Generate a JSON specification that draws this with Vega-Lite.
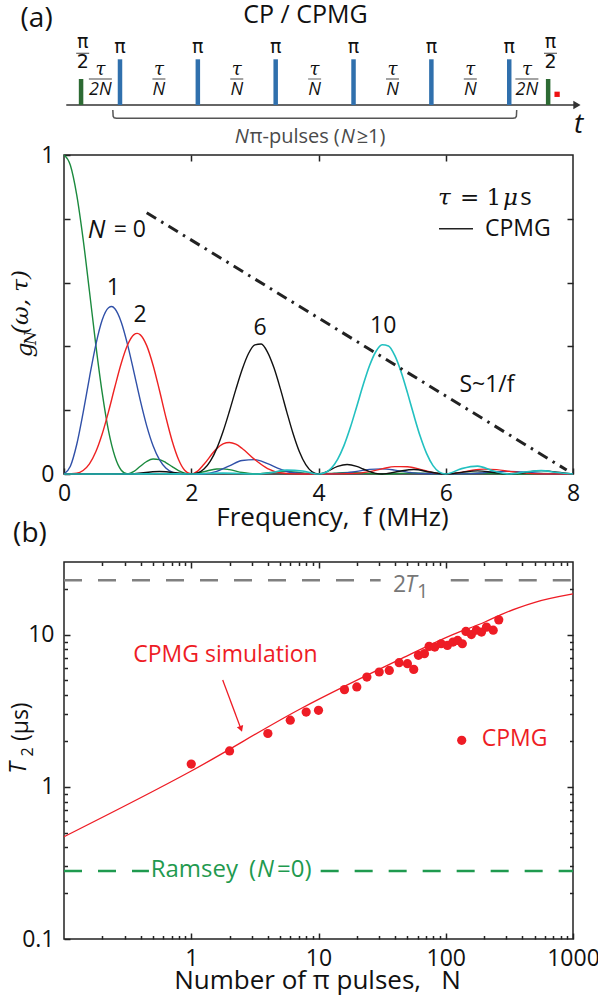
{
"$schema": "https://vega.github.io/schema/vega-lite/v6.json",
"background": "white",
"padding": {"left": 7, "top": 3, "right": 0, "bottom": 0},
"bounds": "flush",
"spacing": 88,
"config": {
  "view": {"stroke": "#222222", "strokeWidth": 1.5},
  "axis": {"domain": false, "grid": false, "labelFont": "Open Sans", "labelFontSize": 23, "labelColor": "#111111", "titleFont": "Open Sans", "titleFontSize": 26, "titleFontWeight": "normal", "titleColor": "#111111", "tickColor": "#222222", "tickWidth": 1.5, "labelFlush": false, "labelOverlap": false},
  "text": {"font": "Open Sans", "fontSize": 23, "color": "#111111"}
},
"datasets": {
  "pulseAxis": [{"t1": -0.19, "t2": 6.36, "v": 0}],
  "pulseArrow": [{"t": 6.37, "v": 0}],
  "pulses": [
    {"t": 0, "amp": 0.569, "kind": "π/2"},
    {"t": 0.5, "amp": 1, "kind": "π"}, {"t": 1.5, "amp": 1, "kind": "π"}, {"t": 2.5, "amp": 1, "kind": "π"},
    {"t": 3.5, "amp": 1, "kind": "π"}, {"t": 4.5, "amp": 1, "kind": "π"}, {"t": 5.5, "amp": 1, "kind": "π"},
    {"t": 6, "amp": 0.569, "kind": "π/2"}
  ],
  "readout": [{"t": 6.115, "v": 0.234}],
  "pulseSans": [
    {"t": 0.5, "v": 1.276, "s": "π"}, {"t": 1.5, "v": 1.276, "s": "π"}, {"t": 2.5, "v": 1.276, "s": "π"},
    {"t": 3.5, "v": 1.276, "s": "π"}, {"t": 4.5, "v": 1.276, "s": "π"}, {"t": 5.5, "v": 1.276, "s": "π"},
    {"t": 0.021, "v": 1.385, "s": "π"}, {"t": 6.03, "v": 1.385, "s": "π"},
    {"t": 0.021, "v": 0.947, "s": "2"}, {"t": 6.03, "v": 0.947, "s": "2"}
  ],
  "pulseTau": [
    {"t": 0.248, "v": 0.766, "s": "τ"}, {"t": 5.727, "v": 0.766, "s": "τ"},
    {"t": 1, "v": 0.766, "s": "τ"}, {"t": 2, "v": 0.766, "s": "τ"}, {"t": 3, "v": 0.766, "s": "τ"}, {"t": 4, "v": 0.766, "s": "τ"}, {"t": 5, "v": 0.766, "s": "τ"}
  ],
  "pulseDen": [
    {"t": 0.248, "v": 0.328, "s": "2N"}, {"t": 5.727, "v": 0.328, "s": "2N"},
    {"t": 1, "v": 0.328, "s": "N"}, {"t": 2, "v": 0.328, "s": "N"}, {"t": 3, "v": 0.328, "s": "N"}, {"t": 4, "v": 0.328, "s": "N"}, {"t": 5, "v": 0.328, "s": "N"}
  ],
  "barShort": [
    {"t": 0.021, "v": 1.131}, {"t": 6.03, "v": 1.131},
    {"t": 1, "v": 0.569}, {"t": 2, "v": 0.569}, {"t": 3, "v": 0.569}, {"t": 4, "v": 0.569}, {"t": 5, "v": 0.569}
  ],
  "barLong": [{"t": 0.248, "v": 0.569}, {"t": 5.727, "v": 0.569}],
  "bracket": [
    {"t": 0.408, "v": -0.109}, {"t": 0.412, "v": -0.245}, {"t": 0.425, "v": -0.28}, {"t": 0.455, "v": -0.291},
    {"t": 5.549, "v": -0.291}, {"t": 5.579, "v": -0.28}, {"t": 5.592, "v": -0.245}, {"t": 5.596, "v": -0.109}
  ],
  "bracketText": [{"t": 2.163, "v": -0.70, "s": "π-pulses"}, {"t": 3.245, "v": -0.70, "s": "("}, {"t": 3.54, "v": -0.70, "s": "≥1)"}],
  "bracketItal": [{"t": 1.974, "v": -0.70, "s": "N"}, {"t": 3.335, "v": -0.70, "s": "N"}],
  "tLabel": [{"t": 6.39, "v": -0.438, "s": "t"}],
  "heads": [{"t": 2.882, "v": 1.969, "s": "CP / CPMG"}],
  "panelA": [{"t": -0.571, "v": 1.888, "s": "(a)"}],
  "curves": [
    {"N":0,"f":0,"g":1},{"N":0,"f":0.1,"g":0.968},{"N":0,"f":0.2,"g":0.875},{"N":0,"f":0.3,"g":0.737},{"N":0,"f":0.4,"g":0.573},{"N":0,"f":0.5,"g":0.405},{"N":0,"f":0.6,"g":0.255},{"N":0,"f":0.7,"g":0.135},{"N":0,"f":0.8,"g":0.0547},{"N":0,"f":0.9,"g":0.0119},{"N":0,"f":1,"g":0},{"N":0,"f":1.1,"g":0.008},{"N":0,"f":1.2,"g":0.0243},{"N":0,"f":1.3,"g":0.0392},{"N":0,"f":1.4,"g":0.0468},{"N":0,"f":1.5,"g":0.045},{"N":0,"f":1.6,"g":0.0358},{"N":0,"f":1.7,"g":0.0229},{"N":0,"f":1.8,"g":0.0108},{"N":0,"f":1.9,"g":0.0027},{"N":0,"f":2,"g":0},{"N":0,"f":2.2,"g":0.0072},{"N":0,"f":2.4,"g":0.0159},{"N":0,"f":2.5,"g":0.0162},{"N":0,"f":2.6,"g":0.0136},{"N":0,"f":2.8,"g":0.0045},{"N":0,"f":3,"g":0},{"N":0,"f":3.25,"g":0.0048},{"N":0,"f":3.5,"g":0.0083},{"N":0,"f":3.75,"g":0.0036},{"N":0,"f":4,"g":0},{"N":0,"f":4.25,"g":0.0028},{"N":0,"f":4.5,"g":0.005},{"N":0,"f":4.75,"g":0.0022},{"N":0,"f":5,"g":0},{"N":0,"f":5.5,"g":0.0034},{"N":0,"f":6,"g":0},{"N":0,"f":6.5,"g":0.0024},{"N":0,"f":7,"g":0},{"N":0,"f":7.5,"g":0.0018},{"N":0,"f":8,"g":0},
    {"N":1,"f":0,"g":0},{"N":1,"f":0.1,"g":0.0243},{"N":1,"f":0.2,"g":0.0924},{"N":1,"f":0.3,"g":0.1915},{"N":1,"f":0.4,"g":0.3025},{"N":1,"f":0.5,"g":0.405},{"N":1,"f":0.6,"g":0.4825},{"N":1,"f":0.7,"g":0.521},{"N":1,"f":0.75,"g":0.525},{"N":1,"f":0.8,"g":0.518},{"N":1,"f":0.9,"g":0.476},{"N":1,"f":1,"g":0.405},{"N":1,"f":1.1,"g":0.3187},{"N":1,"f":1.2,"g":0.23},{"N":1,"f":1.3,"g":0.151},{"N":1,"f":1.4,"g":0.0886},{"N":1,"f":1.5,"g":0.045},{"N":1,"f":1.6,"g":0.0189},{"N":1,"f":1.7,"g":0.006},{"N":1,"f":1.8,"g":0.0011},{"N":1,"f":2,"g":0},{"N":1,"f":2.2,"g":0.0008},{"N":1,"f":2.4,"g":0.0084},{"N":1,"f":2.6,"g":0.0257},{"N":1,"f":2.8,"g":0.0423},{"N":1,"f":3,"g":0.045},{"N":1,"f":3.2,"g":0.0324},{"N":1,"f":3.4,"g":0.015},{"N":1,"f":3.6,"g":0.0037},{"N":1,"f":4,"g":0},{"N":1,"f":4.4,"g":0.0025},{"N":1,"f":4.6,"g":0.0082},{"N":1,"f":4.8,"g":0.0144},{"N":1,"f":5,"g":0.0162},{"N":1,"f":5.2,"g":0.0123},{"N":1,"f":5.4,"g":0.006},{"N":1,"f":5.6,"g":0.0015},{"N":1,"f":6,"g":0},{"N":1,"f":6.4,"g":0.0011},{"N":1,"f":6.6,"g":0.004},{"N":1,"f":6.8,"g":0.0072},{"N":1,"f":7,"g":0.0083},{"N":1,"f":7.2,"g":0.0064},{"N":1,"f":7.4,"g":0.0032},{"N":1,"f":7.6,"g":0.0008},{"N":1,"f":8,"g":0},
    {"N":2,"f":0,"g":0},{"N":2,"f":0.2,"g":0.0023},{"N":2,"f":0.3,"g":0.011},{"N":2,"f":0.4,"g":0.0319},{"N":2,"f":0.5,"g":0.0696},{"N":2,"f":0.6,"g":0.1253},{"N":2,"f":0.7,"g":0.1957},{"N":2,"f":0.8,"g":0.2735},{"N":2,"f":0.9,"g":0.3473},{"N":2,"f":1,"g":0.405},{"N":2,"f":1.1,"g":0.437},{"N":2,"f":1.15,"g":0.4408},{"N":2,"f":1.2,"g":0.4362},{"N":2,"f":1.3,"g":0.4024},{"N":2,"f":1.4,"g":0.341},{"N":2,"f":1.5,"g":0.2625},{"N":2,"f":1.6,"g":0.179},{"N":2,"f":1.7,"g":0.1034},{"N":2,"f":1.8,"g":0.0455},{"N":2,"f":1.9,"g":0.0109},{"N":2,"f":2,"g":0},{"N":2,"f":2.1,"g":0.0089},{"N":2,"f":2.2,"g":0.0304},{"N":2,"f":2.4,"g":0.0795},{"N":2,"f":2.5,"g":0.0945},{"N":2,"f":2.6,"g":0.0989},{"N":2,"f":2.7,"g":0.0933},{"N":2,"f":2.8,"g":0.0801},{"N":2,"f":3,"g":0.045},{"N":2,"f":3.2,"g":0.0171},{"N":2,"f":3.4,"g":0.0039},{"N":2,"f":3.6,"g":0.0004},{"N":2,"f":4,"g":0},{"N":2,"f":4.6,"g":0.0021},{"N":2,"f":4.8,"g":0.0076},{"N":2,"f":5,"g":0.0162},{"N":2,"f":5.2,"g":0.0232},{"N":2,"f":5.4,"g":0.0229},{"N":2,"f":5.6,"g":0.0146},{"N":2,"f":5.8,"g":0.0044},{"N":2,"f":6,"g":0},{"N":2,"f":6.2,"g":0.0038},{"N":2,"f":6.4,"g":0.0112},{"N":2,"f":6.6,"g":0.0153},{"N":2,"f":6.8,"g":0.0136},{"N":2,"f":7,"g":0.0083},{"N":2,"f":7.2,"g":0.0034},{"N":2,"f":7.5,"g":0.0003},{"N":2,"f":8,"g":0},
    {"N":6,"f":0,"g":0},{"N":6,"f":0.5,"g":0.0005},{"N":6,"f":1,"g":0},{"N":6,"f":1.5,"g":0.0077},{"N":6,"f":2,"g":0},{"N":6,"f":2.1,"g":0.0032},{"N":6,"f":2.2,"g":0.0154},{"N":6,"f":2.3,"g":0.0402},{"N":6,"f":2.4,"g":0.0796},{"N":6,"f":2.5,"g":0.133},{"N":6,"f":2.6,"g":0.1967},{"N":6,"f":2.7,"g":0.2645},{"N":6,"f":2.8,"g":0.3277},{"N":6,"f":2.9,"g":0.3778},{"N":6,"f":3,"g":0.405},{"N":6,"f":3.1,"g":0.4077},{"N":6,"f":3.2,"g":0.3815},{"N":6,"f":3.3,"g":0.3328},{"N":6,"f":3.4,"g":0.2677},{"N":6,"f":3.5,"g":0.1957},{"N":6,"f":3.6,"g":0.1269},{"N":6,"f":3.7,"g":0.0696},{"N":6,"f":3.8,"g":0.029},{"N":6,"f":3.9,"g":0.0065},{"N":6,"f":4,"g":0},{"N":6,"f":4.1,"g":0.0046},{"N":6,"f":4.3,"g":0.024},{"N":6,"f":4.45,"g":0.0299},{"N":6,"f":4.6,"g":0.0238},{"N":6,"f":4.7,"g":0.0157},{"N":6,"f":4.9,"g":0.0019},{"N":6,"f":5,"g":0},{"N":6,"f":5.25,"g":0.008},{"N":6,"f":5.5,"g":0.0139},{"N":6,"f":5.75,"g":0.0062},{"N":6,"f":6,"g":0},{"N":6,"f":6.25,"g":0.0052},{"N":6,"f":6.5,"g":0.0099},{"N":6,"f":6.75,"g":0.0048},{"N":6,"f":7,"g":0},{"N":6,"f":7.25,"g":0.0049},{"N":6,"f":7.5,"g":0.0105},{"N":6,"f":7.75,"g":0.0059},{"N":6,"f":8,"g":0},
    {"N":10,"f":0,"g":0},{"N":10,"f":1,"g":0},{"N":10,"f":1.5,"g":0.0007},{"N":10,"f":2,"g":0},{"N":10,"f":2.5,"g":0.0028},{"N":10,"f":3,"g":0},{"N":10,"f":3.25,"g":0.004},{"N":10,"f":3.5,"g":0.012},{"N":10,"f":3.75,"g":0.0094},{"N":10,"f":4,"g":0},{"N":10,"f":4.1,"g":0.0038},{"N":10,"f":4.2,"g":0.0181},{"N":10,"f":4.3,"g":0.0461},{"N":10,"f":4.4,"g":0.089},{"N":10,"f":4.5,"g":0.1455},{"N":10,"f":4.6,"g":0.211},{"N":10,"f":4.7,"g":0.278},{"N":10,"f":4.8,"g":0.3384},{"N":10,"f":4.9,"g":0.3833},{"N":10,"f":5,"g":0.405},{"N":10,"f":5.1,"g":0.4013},{"N":10,"f":5.2,"g":0.3709},{"N":10,"f":5.3,"g":0.3191},{"N":10,"f":5.4,"g":0.2535},{"N":10,"f":5.5,"g":0.1831},{"N":10,"f":5.6,"g":0.1173},{"N":10,"f":5.7,"g":0.0637},{"N":10,"f":5.8,"g":0.0262},{"N":10,"f":5.9,"g":0.0058},{"N":10,"f":6,"g":0},{"N":10,"f":6.25,"g":0.0169},{"N":10,"f":6.5,"g":0.0246},{"N":10,"f":6.75,"g":0.0094},{"N":10,"f":7,"g":0},{"N":10,"f":7.25,"g":0.0062},{"N":10,"f":7.5,"g":0.0105},{"N":10,"f":7.75,"g":0.0045},{"N":10,"f":8,"g":0}
  ],
  "sLine": [{"f": 1.30, "g": 0.819}, {"f": 7.90, "g": 0.0125}],
  "legendLine": [{"f": 5.894, "g": 0.769}, {"f": 6.428, "g": 0.769}],
  "aTextCenter": [
    {"f": 0.775, "g": 0.582, "s": "1"}, {"f": 1.194, "g": 0.498, "s": "2"}, {"f": 3.08, "g": 0.457, "s": "6"},
    {"f": 5.018, "g": 0.465, "s": "10"}, {"f": 6.648, "g": 0.279, "s": "S~1/f"}
  ],
  "aTextLeft": [{"f": 6.617, "g": 0.769, "s": "CPMG"}, {"f": 0.78, "g": 0.765, "s": "= 0"}],
  "aTextItal": [{"f": 0.375, "g": 0.765, "s": "N"}],
  "mathItal": [{"f": 5.878, "g": 0.843, "s": "τ"}, {"f": 6.9, "g": 0.843, "s": "μ"}],
  "mathReg": [{"f": 6.224, "g": 0.843, "s": "= 1"}],
  "mathSans": [{"f": 7.17, "g": 0.843, "s": "s"}],
  "yTitleA": [{"f": -0.613, "g": 0.389, "s": "g"}, {"f": -0.676, "g": 0.539, "s": "(ω, τ)"}],
  "yTitleASub": [{"f": -0.519, "g": 0.426, "s": "N"}],
  "ramsey": [{"n1": 0.1, "n2": 0.465, "T": 0.28}, {"n1": 10.4, "n2": 1000, "T": 0.28}],
  "t1line": [{"n1": 0.1, "n2": 30.8, "T": 22.8}, {"n1": 109.5, "n2": 1000, "T": 22.8}],
  "sim": [{"N": 0.1, "T": 0.47}, {"N": 1, "T": 1.27}, {"N": 7.3, "T": 3.27}, {"N": 44.8, "T": 6.95}, {"N": 110, "T": 9.9}, {"N": 203, "T": 12.1}, {"N": 275, "T": 13.6}, {"N": 371, "T": 15.0}, {"N": 502, "T": 16.3}, {"N": 1000, "T": 18.5}],
  "cpmg": [
    {"N":1,"T":1.41},{"N":2,"T":1.72},{"N":4,"T":2.24},{"N":6,"T":2.74},{"N":8,"T":3.10},{"N":10,"T":3.18},{"N":16,"T":4.35},{"N":20,"T":4.53},{"N":24,"T":5.26},{"N":30,"T":5.68},{"N":36,"T":5.82},{"N":43,"T":6.54},{"N":50,"T":6.44},{"N":56,"T":5.91},{"N":61,"T":7.31},{"N":68,"T":7.5},{"N":74,"T":8.37},{"N":82,"T":8.28},{"N":92,"T":8.71},{"N":103,"T":8.49},{"N":114,"T":8.93},{"N":124,"T":9.16},{"N":135,"T":8.71},{"N":144,"T":10.5},{"N":159,"T":10.0},{"N":174,"T":10.7},{"N":191,"T":10.4},{"N":209,"T":11.2},{"N":236,"T":10.7},{"N":261,"T":12.5}
  ],
  "legendPoint": [{"N": 133.5, "T": 2.02}],
  "arrowLine": [{"n1": 1.767, "T1": 5.03, "n2": 2.46, "T2": 2.40}],
  "arrowHead": [{"N": 2.46, "T": 2.40}],
  "redLeftBase": [{"N": 0.35, "T": 6.64, "s": "CPMG simulation"}],
  "redLeftMid": [{"N": 192, "T": 2.048, "s": "CPMG"}],
  "grayReg": [{"N": 38.5, "T": 19.05, "s": "2"}],
  "grayItal": [{"N": 47.9, "T": 19.05, "s": "T"}],
  "graySub": [{"N": 59.4, "T": 17.4, "s": "1"}],
  "greenReg": [{"N": 0.48, "T": 0.284, "s": "Ramsey"}, {"N": 2.843, "T": 0.284, "s": "("}, {"N": 4.72, "T": 0.284, "s": "=0)"}],
  "greenItal": [{"N": 3.29, "T": 0.284, "s": "N"}],
  "panelB": [{"N": 0.054, "T": 45.8, "s": "(b)"}],
  "yTitleB": [{"N": 0.0459, "T": 2.677, "s": "(μs)"}],
  "yTitleBItal": [{"N": 0.0443, "T": 1.329, "s": "T"}],
  "yTitleBSub": [{"N": 0.0521, "T": 1.693, "s": "2"}]
},
"vconcat": [
  {
    "width": 509, "height": 62,
    "view": {"stroke": null},
    "encoding": {
      "x": {"type": "quantitative", "scale": {"domain": [-0.155, 6.255], "nice": false, "zero": false}, "axis": null},
      "y": {"type": "quantitative", "scale": {"domain": [0.8315, 2.188], "nice": false, "zero": false}, "axis": null}
    },
    "layer": [
      {"data": {"name": "pulseAxis"}, "mark": {"type": "rule", "color": "#333333", "strokeWidth": 1.5},
       "encoding": {"x": {"field": "t1"}, "x2": {"field": "t2"}, "y": {"field": "v"}}},
      {"data": {"name": "pulseArrow"}, "mark": {"type": "point", "shape": "triangle-right", "filled": true, "size": 70, "color": "#333333", "opacity": 1},
       "encoding": {"x": {"field": "t"}, "y": {"field": "v"}}},
      {"data": {"name": "pulses"}, "mark": {"type": "bar", "size": 4.5},
       "encoding": {"x": {"field": "t"}, "y": {"field": "amp"}, "y2": {"datum": 0},
         "color": {"field": "kind", "type": "nominal", "scale": {"domain": ["π/2", "π"], "range": ["#2d6a33", "#3070ad"]}, "legend": null}}},
      {"data": {"name": "readout"}, "mark": {"type": "square", "size": 28, "color": "#ee1111", "opacity": 1},
       "encoding": {"x": {"field": "t"}, "y": {"field": "v"}}},
      {"data": {"name": "pulseSans"}, "mark": {"type": "text", "font": "DejaVu Sans", "fontSize": 19, "align": "center", "baseline": "middle"},
       "encoding": {"x": {"field": "t"}, "y": {"field": "v"}, "text": {"field": "s"}}},
      {"data": {"name": "pulseTau"}, "mark": {"type": "text", "font": "DejaVu Serif", "fontStyle": "italic", "fontSize": 18, "align": "center", "baseline": "middle"},
       "encoding": {"x": {"field": "t"}, "y": {"field": "v"}, "text": {"field": "s"}}},
      {"data": {"name": "pulseDen"}, "mark": {"type": "text", "fontStyle": "italic", "fontSize": 18, "align": "center", "baseline": "middle"},
       "encoding": {"x": {"field": "t"}, "y": {"field": "v"}, "text": {"field": "s"}}},
      {"data": {"name": "barShort"}, "mark": {"type": "tick", "orient": "horizontal", "size": 13, "thickness": 1.2, "color": "#222222"},
       "encoding": {"x": {"field": "t"}, "y": {"field": "v"}}},
      {"data": {"name": "barLong"}, "mark": {"type": "tick", "orient": "horizontal", "size": 23, "thickness": 1.2, "color": "#222222"},
       "encoding": {"x": {"field": "t"}, "y": {"field": "v"}}},
      {"data": {"name": "bracket"}, "mark": {"type": "line", "color": "#555555", "strokeWidth": 1.5},
       "encoding": {"x": {"field": "t"}, "y": {"field": "v"}}},
      {"data": {"name": "bracketText"}, "mark": {"type": "text", "fontSize": 20, "color": "#4a4a4a", "align": "left", "baseline": "middle"},
       "encoding": {"x": {"field": "t"}, "y": {"field": "v"}, "text": {"field": "s"}}},
      {"data": {"name": "bracketItal"}, "mark": {"type": "text", "fontSize": 20, "fontStyle": "italic", "color": "#4a4a4a", "align": "left", "baseline": "middle"},
       "encoding": {"x": {"field": "t"}, "y": {"field": "v"}, "text": {"field": "s"}}},
      {"data": {"name": "tLabel"}, "mark": {"type": "text", "fontSize": 28, "fontStyle": "italic", "align": "center", "baseline": "middle"},
       "encoding": {"x": {"field": "t"}, "y": {"field": "v"}, "text": {"field": "s"}}},
      {"data": {"name": "heads"}, "mark": {"type": "text", "fontSize": 25, "align": "center", "baseline": "middle"},
       "encoding": {"x": {"field": "t"}, "y": {"field": "v"}, "text": {"field": "s"}}},
      {"data": {"name": "panelA"}, "mark": {"type": "text", "fontSize": 28, "align": "center", "baseline": "middle"},
       "encoding": {"x": {"field": "t"}, "y": {"field": "v"}, "text": {"field": "s"}}}
    ]
  },
  {
    "width": 509, "height": 319,
    "resolve": {"axis": {"x": "independent", "y": "independent"}},
    "layer": [
      {"data": {"name": "curves"}, "transform": [{"filter": "datum.N == 0"}],
       "mark": {"type": "line", "color": "#1b8a3e", "strokeWidth": 1.4, "interpolate": "monotone"},
       "encoding": {
         "x": {"field": "f", "type": "quantitative", "scale": {"domain": [0, 8], "nice": false, "zero": false},
           "axis": {"orient": "bottom", "values": [0, 2, 4, 6, 8], "tickSize": -6, "labelPadding": 32, "labelBaseline": "alphabetic", "title": "Frequency,\u00a0\u00a0f (MHz)", "titleX": 268, "titleY": 51, "titleBaseline": "alphabetic"}},
         "y": {"field": "g", "type": "quantitative", "scale": {"domain": [0, 1], "nice": false, "zero": false},
           "axis": {"orient": "left", "values": [0, 0.2, 0.4, 0.6, 0.8, 1], "tickSize": -6, "labelPadding": 16, "labelExpr": "datum.value == 0 ? '0' : (datum.value == 1 ? '1' : '')", "title": null}}}},
      {"data": {"name": "curves"}, "transform": [{"filter": "datum.N == 1"}],
       "mark": {"type": "line", "color": "#3050a8", "strokeWidth": 1.4, "interpolate": "monotone"},
       "encoding": {
         "x": {"field": "f", "type": "quantitative", "scale": {"domain": [0, 8], "nice": false, "zero": false},
           "axis": {"orient": "top", "values": [2, 4, 6], "tickSize": -6, "labels": false, "title": null}},
         "y": {"field": "g", "type": "quantitative", "scale": {"domain": [0, 1], "nice": false, "zero": false},
           "axis": {"orient": "right", "values": [0.2, 0.4, 0.6, 0.8], "tickSize": -6, "labels": false, "title": null}}}},
      {"data": {"name": "curves"}, "transform": [{"filter": "datum.N == 2"}],
       "mark": {"type": "line", "color": "#ee2222", "strokeWidth": 1.4, "interpolate": "monotone"},
       "encoding": {
         "x": {"field": "f", "type": "quantitative", "scale": {"domain": [0, 8], "nice": false, "zero": false}, "axis": null},
         "y": {"field": "g", "type": "quantitative", "scale": {"domain": [0, 1], "nice": false, "zero": false}, "axis": null}}},
      {"data": {"name": "curves"}, "transform": [{"filter": "datum.N == 6"}],
       "mark": {"type": "line", "color": "#111111", "strokeWidth": 1.4, "interpolate": "monotone"},
       "encoding": {
         "x": {"field": "f", "type": "quantitative", "scale": {"domain": [0, 8], "nice": false, "zero": false}, "axis": null},
         "y": {"field": "g", "type": "quantitative", "scale": {"domain": [0, 1], "nice": false, "zero": false}, "axis": null}}},
      {"data": {"name": "curves"}, "transform": [{"filter": "datum.N == 10"}],
       "mark": {"type": "line", "color": "#22c0c0", "strokeWidth": 1.6, "interpolate": "monotone"},
       "encoding": {
         "x": {"field": "f", "type": "quantitative", "scale": {"domain": [0, 8], "nice": false, "zero": false}, "axis": null},
         "y": {"field": "g", "type": "quantitative", "scale": {"domain": [0, 1], "nice": false, "zero": false}, "axis": null}}},
      {"data": {"name": "sLine"}, "mark": {"type": "line", "color": "#222222", "strokeWidth": 3, "strokeDash": [11, 6, 2.5, 6]},
       "encoding": {
         "x": {"field": "f", "type": "quantitative", "scale": {"domain": [0, 8], "nice": false, "zero": false}, "axis": null},
         "y": {"field": "g", "type": "quantitative", "scale": {"domain": [0, 1], "nice": false, "zero": false}, "axis": null}}},
      {"data": {"name": "legendLine"}, "mark": {"type": "line", "color": "#222222", "strokeWidth": 1.5},
       "encoding": {
         "x": {"field": "f", "type": "quantitative", "scale": {"domain": [0, 8], "nice": false, "zero": false}, "axis": null},
         "y": {"field": "g", "type": "quantitative", "scale": {"domain": [0, 1], "nice": false, "zero": false}, "axis": null}}},
      {"data": {"name": "aTextCenter"}, "mark": {"type": "text", "fontSize": 23, "align": "center", "baseline": "middle"},
       "encoding": {
         "x": {"field": "f", "type": "quantitative", "scale": {"domain": [0, 8], "nice": false, "zero": false}, "axis": null},
         "y": {"field": "g", "type": "quantitative", "scale": {"domain": [0, 1], "nice": false, "zero": false}, "axis": null},
         "text": {"field": "s"}}},
      {"data": {"name": "aTextLeft"}, "mark": {"type": "text", "fontSize": 23, "align": "left", "baseline": "middle"},
       "encoding": {
         "x": {"field": "f", "type": "quantitative", "scale": {"domain": [0, 8], "nice": false, "zero": false}, "axis": null},
         "y": {"field": "g", "type": "quantitative", "scale": {"domain": [0, 1], "nice": false, "zero": false}, "axis": null},
         "text": {"field": "s"}}},
      {"data": {"name": "aTextItal"}, "mark": {"type": "text", "fontSize": 25, "fontStyle": "italic", "align": "left", "baseline": "middle"},
       "encoding": {
         "x": {"field": "f", "type": "quantitative", "scale": {"domain": [0, 8], "nice": false, "zero": false}, "axis": null},
         "y": {"field": "g", "type": "quantitative", "scale": {"domain": [0, 1], "nice": false, "zero": false}, "axis": null},
         "text": {"field": "s"}}},
      {"data": {"name": "mathItal"}, "mark": {"type": "text", "font": "DejaVu Serif", "fontSize": 23, "fontStyle": "italic", "align": "left", "baseline": "alphabetic"},
       "encoding": {
         "x": {"field": "f", "type": "quantitative", "scale": {"domain": [0, 8], "nice": false, "zero": false}, "axis": null},
         "y": {"field": "g", "type": "quantitative", "scale": {"domain": [0, 1], "nice": false, "zero": false}, "axis": null},
         "text": {"field": "s"}}},
      {"data": {"name": "mathReg"}, "mark": {"type": "text", "font": "DejaVu Serif", "fontSize": 23, "align": "left", "baseline": "alphabetic"},
       "encoding": {
         "x": {"field": "f", "type": "quantitative", "scale": {"domain": [0, 8], "nice": false, "zero": false}, "axis": null},
         "y": {"field": "g", "type": "quantitative", "scale": {"domain": [0, 1], "nice": false, "zero": false}, "axis": null},
         "text": {"field": "s"}}},
      {"data": {"name": "mathSans"}, "mark": {"type": "text", "fontSize": 24, "align": "left", "baseline": "alphabetic"},
       "encoding": {
         "x": {"field": "f", "type": "quantitative", "scale": {"domain": [0, 8], "nice": false, "zero": false}, "axis": null},
         "y": {"field": "g", "type": "quantitative", "scale": {"domain": [0, 1], "nice": false, "zero": false}, "axis": null},
         "text": {"field": "s"}}},
      {"data": {"name": "yTitleA"}, "mark": {"type": "text", "font": "DejaVu Serif", "fontSize": 23, "fontStyle": "italic", "align": "center", "baseline": "middle", "angle": 270},
       "encoding": {
         "x": {"field": "f", "type": "quantitative", "scale": {"domain": [0, 8], "nice": false, "zero": false}, "axis": null},
         "y": {"field": "g", "type": "quantitative", "scale": {"domain": [0, 1], "nice": false, "zero": false}, "axis": null},
         "text": {"field": "s"}}},
      {"data": {"name": "yTitleASub"}, "mark": {"type": "text", "font": "DejaVu Serif", "fontSize": 16, "fontStyle": "italic", "align": "center", "baseline": "middle", "angle": 270},
       "encoding": {
         "x": {"field": "f", "type": "quantitative", "scale": {"domain": [0, 8], "nice": false, "zero": false}, "axis": null},
         "y": {"field": "g", "type": "quantitative", "scale": {"domain": [0, 1], "nice": false, "zero": false}, "axis": null},
         "text": {"field": "s"}}}
    ]
  },
  {
    "width": 509, "height": 377,
    "resolve": {"axis": {"x": "independent", "y": "independent"}},
    "layer": [
      {"data": {"name": "ramsey"}, "mark": {"type": "rule", "color": "#1f9a4f", "strokeWidth": 2.5, "strokeDash": [18, 16]},
       "encoding": {
         "x": {"field": "n1", "type": "quantitative", "scale": {"type": "log", "domain": [0.1, 1000], "nice": false},
           "axis": {"orient": "bottom", "values": [1, 10, 100, 1000], "format": "~g", "tickSize": -6, "labelPadding": 32, "labelBaseline": "alphabetic", "title": "Number of π pulses,\u00a0\u00a0\u00a0N", "titleX": 253, "titleY": 49.3, "titleBaseline": "alphabetic"}},
         "x2": {"field": "n2"},
         "y": {"field": "T", "type": "quantitative", "scale": {"type": "log", "domain": [0.1, 30], "nice": false},
           "axis": {"orient": "left", "values": [0.1, 1, 10], "format": "~g", "tickSize": -6, "labelPadding": 16, "title": null}}}},
      {"data": {"name": "t1line"}, "mark": {"type": "rule", "color": "#808080", "strokeWidth": 2.5, "strokeDash": [18, 16]},
       "encoding": {
         "x": {"field": "n1", "type": "quantitative", "scale": {"type": "log", "domain": [0.1, 1000], "nice": false},
           "axis": {"orient": "bottom", "values": [0.2, 0.3, 0.4, 0.5, 0.6, 0.7, 0.8, 0.9, 2, 3, 4, 5, 6, 7, 8, 9, 20, 30, 40, 50, 60, 70, 80, 90, 200, 300, 400, 500, 600, 700, 800, 900], "tickSize": -3.5, "labels": false, "title": null}},
         "x2": {"field": "n2"},
         "y": {"field": "T", "type": "quantitative", "scale": {"type": "log", "domain": [0.1, 30], "nice": false},
           "axis": {"orient": "left", "values": [0.2, 0.3, 0.4, 0.5, 0.6, 0.7, 0.8, 0.9, 2, 3, 4, 5, 6, 7, 8, 9, 20], "tickSize": -3.5, "labels": false, "title": null}}}},
      {"data": {"name": "sim"}, "mark": {"type": "line", "color": "#ee1c25", "strokeWidth": 1.3, "interpolate": "monotone"},
       "encoding": {
         "x": {"field": "N", "type": "quantitative", "scale": {"type": "log", "domain": [0.1, 1000], "nice": false},
           "axis": {"orient": "top", "values": [1, 10, 100], "tickSize": -6, "labels": false, "title": null}},
         "y": {"field": "T", "type": "quantitative", "scale": {"type": "log", "domain": [0.1, 30], "nice": false},
           "axis": {"orient": "right", "values": [1, 10], "tickSize": -6, "labels": false, "title": null}}}},
      {"data": {"name": "cpmg"}, "mark": {"type": "circle", "size": 85, "color": "#ee1c25", "opacity": 1},
       "encoding": {
         "x": {"field": "N", "type": "quantitative", "scale": {"type": "log", "domain": [0.1, 1000], "nice": false},
           "axis": {"orient": "top", "values": [0.2, 0.3, 0.4, 0.5, 0.6, 0.7, 0.8, 0.9, 2, 3, 4, 5, 6, 7, 8, 9, 20, 30, 40, 50, 60, 70, 80, 90, 200, 300, 400, 500, 600, 700, 800, 900], "tickSize": -3.5, "labels": false, "title": null}},
         "y": {"field": "T", "type": "quantitative", "scale": {"type": "log", "domain": [0.1, 30], "nice": false},
           "axis": {"orient": "right", "values": [0.2, 0.3, 0.4, 0.5, 0.6, 0.7, 0.8, 0.9, 2, 3, 4, 5, 6, 7, 8, 9, 20], "tickSize": -3.5, "labels": false, "title": null}}}},
      {"data": {"name": "legendPoint"}, "mark": {"type": "circle", "size": 85, "color": "#ee1c25", "opacity": 1},
       "encoding": {
         "x": {"field": "N", "type": "quantitative", "scale": {"type": "log", "domain": [0.1, 1000], "nice": false}, "axis": null},
         "y": {"field": "T", "type": "quantitative", "scale": {"type": "log", "domain": [0.1, 30], "nice": false}, "axis": null}}},
      {"data": {"name": "arrowLine"}, "mark": {"type": "rule", "color": "#ee1c25", "strokeWidth": 1.3},
       "encoding": {
         "x": {"field": "n1", "type": "quantitative", "scale": {"type": "log", "domain": [0.1, 1000], "nice": false}, "axis": null},
         "x2": {"field": "n2"},
         "y": {"field": "T1", "type": "quantitative", "scale": {"type": "log", "domain": [0.1, 30], "nice": false}, "axis": null},
         "y2": {"field": "T2"}}},
      {"data": {"name": "arrowHead"}, "mark": {"type": "point", "shape": "triangle-down", "filled": true, "size": 45, "angle": 340, "color": "#ee1c25", "opacity": 1},
       "encoding": {
         "x": {"field": "N", "type": "quantitative", "scale": {"type": "log", "domain": [0.1, 1000], "nice": false}, "axis": null},
         "y": {"field": "T", "type": "quantitative", "scale": {"type": "log", "domain": [0.1, 30], "nice": false}, "axis": null}}},
      {"data": {"name": "redLeftBase"}, "mark": {"type": "text", "fontSize": 23, "color": "#ee1c25", "align": "left", "baseline": "alphabetic"},
       "encoding": {
         "x": {"field": "N", "type": "quantitative", "scale": {"type": "log", "domain": [0.1, 1000], "nice": false}, "axis": null},
         "y": {"field": "T", "type": "quantitative", "scale": {"type": "log", "domain": [0.1, 30], "nice": false}, "axis": null},
         "text": {"field": "s"}}},
      {"data": {"name": "redLeftMid"}, "mark": {"type": "text", "fontSize": 23, "color": "#ee1c25", "align": "left", "baseline": "middle"},
       "encoding": {
         "x": {"field": "N", "type": "quantitative", "scale": {"type": "log", "domain": [0.1, 1000], "nice": false}, "axis": null},
         "y": {"field": "T", "type": "quantitative", "scale": {"type": "log", "domain": [0.1, 30], "nice": false}, "axis": null},
         "text": {"field": "s"}}},
      {"data": {"name": "grayReg"}, "mark": {"type": "text", "fontSize": 23, "color": "#777777", "align": "left", "baseline": "alphabetic"},
       "encoding": {
         "x": {"field": "N", "type": "quantitative", "scale": {"type": "log", "domain": [0.1, 1000], "nice": false}, "axis": null},
         "y": {"field": "T", "type": "quantitative", "scale": {"type": "log", "domain": [0.1, 30], "nice": false}, "axis": null},
         "text": {"field": "s"}}},
      {"data": {"name": "grayItal"}, "mark": {"type": "text", "fontSize": 23, "fontStyle": "italic", "color": "#777777", "align": "left", "baseline": "alphabetic"},
       "encoding": {
         "x": {"field": "N", "type": "quantitative", "scale": {"type": "log", "domain": [0.1, 1000], "nice": false}, "axis": null},
         "y": {"field": "T", "type": "quantitative", "scale": {"type": "log", "domain": [0.1, 30], "nice": false}, "axis": null},
         "text": {"field": "s"}}},
      {"data": {"name": "graySub"}, "mark": {"type": "text", "fontSize": 20, "color": "#777777", "align": "left", "baseline": "alphabetic"},
       "encoding": {
         "x": {"field": "N", "type": "quantitative", "scale": {"type": "log", "domain": [0.1, 1000], "nice": false}, "axis": null},
         "y": {"field": "T", "type": "quantitative", "scale": {"type": "log", "domain": [0.1, 30], "nice": false}, "axis": null},
         "text": {"field": "s"}}},
      {"data": {"name": "greenReg"}, "mark": {"type": "text", "fontSize": 24, "color": "#1f9a4f", "align": "left", "baseline": "middle"},
       "encoding": {
         "x": {"field": "N", "type": "quantitative", "scale": {"type": "log", "domain": [0.1, 1000], "nice": false}, "axis": null},
         "y": {"field": "T", "type": "quantitative", "scale": {"type": "log", "domain": [0.1, 30], "nice": false}, "axis": null},
         "text": {"field": "s"}}},
      {"data": {"name": "greenItal"}, "mark": {"type": "text", "fontSize": 24, "fontStyle": "italic", "color": "#1f9a4f", "align": "left", "baseline": "middle"},
       "encoding": {
         "x": {"field": "N", "type": "quantitative", "scale": {"type": "log", "domain": [0.1, 1000], "nice": false}, "axis": null},
         "y": {"field": "T", "type": "quantitative", "scale": {"type": "log", "domain": [0.1, 30], "nice": false}, "axis": null},
         "text": {"field": "s"}}},
      {"data": {"name": "panelB"}, "mark": {"type": "text", "fontSize": 28, "align": "center", "baseline": "middle"},
       "encoding": {
         "x": {"field": "N", "type": "quantitative", "scale": {"type": "log", "domain": [0.1, 1000], "nice": false}, "axis": null},
         "y": {"field": "T", "type": "quantitative", "scale": {"type": "log", "domain": [0.1, 30], "nice": false}, "axis": null},
         "text": {"field": "s"}}},
      {"data": {"name": "yTitleB"}, "mark": {"type": "text", "fontSize": 23, "align": "center", "baseline": "middle", "angle": 270},
       "encoding": {
         "x": {"field": "N", "type": "quantitative", "scale": {"type": "log", "domain": [0.1, 1000], "nice": false}, "axis": null},
         "y": {"field": "T", "type": "quantitative", "scale": {"type": "log", "domain": [0.1, 30], "nice": false}, "axis": null},
         "text": {"field": "s"}}},
      {"data": {"name": "yTitleBItal"}, "mark": {"type": "text", "fontSize": 23, "fontStyle": "italic", "align": "center", "baseline": "middle", "angle": 270},
       "encoding": {
         "x": {"field": "N", "type": "quantitative", "scale": {"type": "log", "domain": [0.1, 1000], "nice": false}, "axis": null},
         "y": {"field": "T", "type": "quantitative", "scale": {"type": "log", "domain": [0.1, 30], "nice": false}, "axis": null},
         "text": {"field": "s"}}},
      {"data": {"name": "yTitleBSub"}, "mark": {"type": "text", "fontSize": 16, "align": "center", "baseline": "middle", "angle": 270},
       "encoding": {
         "x": {"field": "N", "type": "quantitative", "scale": {"type": "log", "domain": [0.1, 1000], "nice": false}, "axis": null},
         "y": {"field": "T", "type": "quantitative", "scale": {"type": "log", "domain": [0.1, 30], "nice": false}, "axis": null},
         "text": {"field": "s"}}}
    ]
  }
]
}
